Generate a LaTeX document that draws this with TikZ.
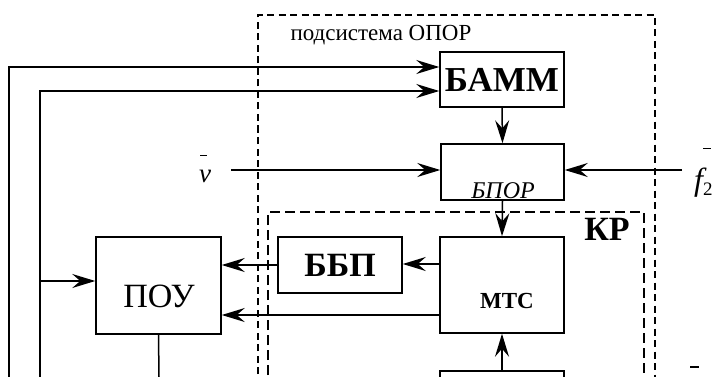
\documentclass[tikz,border=0pt]{standalone}
\usepackage{fontspec}
\setmainfont{Liberation Serif}
\usetikzlibrary{arrows.meta,calc}
\tikzset{
  blk/.style={draw,line width=1.5pt,minimum width=#1,inner sep=0pt},
  con/.style={line width=1.5pt},
  arr/.style={con,-{Stealth[length=23pt,width=14pt,inset=8pt]}},
  outerdash/.style={line width=1.3pt,dash pattern=on 7pt off 4.5pt},
  krdash/.style={line width=2pt,dash pattern=on 10pt off 5pt},
}
\begin{document}
\begin{tikzpicture}[x=1pt,y=-1pt]
\useasboundingbox (0,0) rectangle (722,377);
\clip (0,0) rectangle (722,377);
% dashed subsystem frames
\draw[outerdash] (258,420) -- (258,15) -- (655,15) -- (655,420);
\draw[krdash] (268,420) -- (268,212) -- (644,212) -- (644,420);
\node[anchor=west,font=\fontsize{23}{23}\selectfont] (sub) at (287,35) {подсистема ОПОР};
\node[font=\fontsize{34}{34}\selectfont\bfseries] (kr) at (607,229) {КР};
% blocks
\node[blk=124pt,minimum height=55pt] (bamm) at (502,79.5) {};
\node[font=\fontsize{35}{35}\selectfont\bfseries] (bammt) at (502,80) {БАММ};
\node[blk=123pt,minimum height=56pt] (bpor) at (502.5,172) {};
\node[font=\fontsize{24}{24}\selectfont\itshape] (bport) at (503,191) {БПОР};
\node[blk=124pt,minimum height=96pt] (mts) at (502,285) {};
\node[font=\fontsize{23}{23}\selectfont\bfseries] (mtst) at (507,301) {МТС};
\node[blk=124pt,minimum height=56pt] (bbp) at (340,265) {};
\node[font=\fontsize{34}{34}\selectfont\bfseries] (bbpt) at (340,265) {ББП};
\node[blk=125pt,minimum height=97pt] (pou) at (158.5,285.5) {};
\node[font=\fontsize{34}{34}\selectfont] (pout) at (159,296) {ПОУ};
\node[blk=124pt,minimum height=60pt] (bot) at (502,401) {};
% inputs
\node[anchor=base west,inner sep=0pt,font=\fontsize{27}{27}\selectfont\itshape] (vlab) at (199,182)
  {\rlap{\hspace{1pt}\raisebox{26pt}{\rule{7pt}{1.2pt}}}v};
\node[anchor=base west,inner sep=0pt,font=\fontsize{32}{32}\selectfont\itshape] (flab) at (694,190)
  {\rlap{\hspace{9pt}\raisebox{41pt}{\rule{8pt}{1.2pt}}}f\raisebox{-5pt}{\fontsize{19}{19}\selectfont\upshape 2}};
\coordinate (vstart) at (231,170);
\coordinate (fstart) at (682,170);
\coordinate (l1) at (9,377);
\coordinate (l2) at (40,377);
\coordinate (j) at (40,281);
\coordinate (pend) at (159,377);
% connectors
\draw[arr] (l1) |- ($(bamm.west)+(0,-12.5)$);
\draw[arr] (l2) |- ($(bamm.west)+(0,11.5)$);
\draw[arr] (j) -- (j -| pou.west);
\draw[arr] (bamm.south) -- (bpor.north);
\draw[arr] (vstart) -- ($(bpor.west)+(0,-2)$);
\draw[arr] (fstart) -- ($(bpor.east)+(0,-2)$);
\draw[arr] (bpor.south) -- (mts.north);
\draw[arr] ($(mts.west)+(0,-21)$) -- ($(bbp.east)+(0,-1)$);
\draw[arr] (bbp.west) -- (bbp.west -| pou.east);
\draw[arr] ($(mts.west)+(0,30)$) -- ($(pou.east)+(0,29.5)$);
\draw[con] (pou.south) -- (pend);
\draw[arr] (bot.north) -- (mts.south);
\coordinate (d1) at (690,367);
\coordinate (d2) at (699,367);
\draw[line width=1.2pt] (d1) -- (d2);
\end{tikzpicture}
\end{document}
